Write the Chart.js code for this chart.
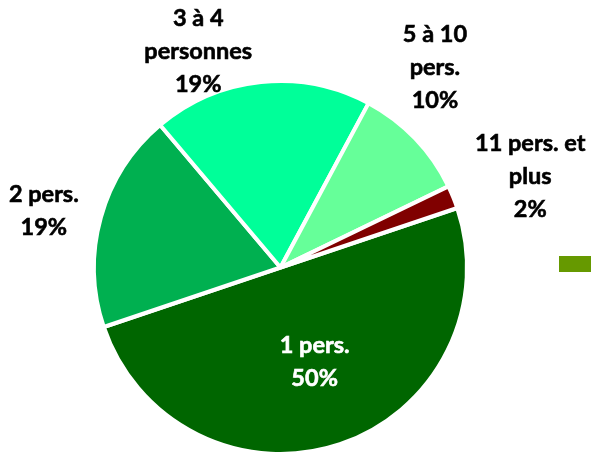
<!DOCTYPE html>
<html>
<head>
<meta charset="utf-8">
<script src="https://cdn.jsdelivr.net/npm/chart.js@4.4.1/dist/chart.umd.min.js"></script>
<style>
  html, body { margin: 0; padding: 0; background: #fff; overflow: hidden; }
  canvas { display: block; }
</style>
</head>
<body>
<canvas id="miGraficoPie" width="591" height="460"></canvas>
<script>
// categories and shares (%)
const categorias = ['1 pers.', '2 pers.', '3 à 4 personnes', '5 à 10 pers.', '11 pers. et plus'];
const porcentajes = [50, 19, 19, 10, 2];
// label text lines as shown
const etiquetas = [
    ['1 pers.', '50%'],
    ['2 pers.', '19%'],
    ['3 à 4', 'personnes', '19%'],
    ['5 à 10', 'pers.', '10%'],
    ['11 pers. et', 'plus', '2%']
];
const colores = ['#006600', '#00B050', '#00FF99', '#66FF99', '#800000'];

// label placement relative to the pie centre, in radius units
const posEtiquetas = [[0.183, 0.505], [-1.269, -0.301], [-0.441, -1.156], [0.828, -1.075], [1.339, -0.489]];
const colorTexto = ['#ffffff', '#000000', '#000000', '#000000', '#000000'];

const pluginEtiquetas = {
    id: 'etiquetas',
    afterDatasetsDraw(chart) {
        const ctx = chart.ctx;
        const meta = chart.getDatasetMeta(0);
        ctx.save();
        ctx.font = 'bold 23.5px Lato';
        ctx.textAlign = 'center';
        ctx.textBaseline = 'middle';
        meta.data.forEach(function(arc, i) {
            const r = arc.outerRadius;
            const cx = arc.x + posEtiquetas[i][0] * r;
            const cy = arc.y + posEtiquetas[i][1] * r;
            const lineas = etiquetas[i];
            const lh = 33;
            ctx.fillStyle = colorTexto[i];
            ctx.strokeStyle = colorTexto[i];
            ctx.lineWidth = 0.6;
            lineas.forEach(function(t, k) {
                const y = cy + (k - (lineas.length - 1) / 2) * lh;
                ctx.fillText(t, cx, y);
                ctx.strokeText(t, cx, y);
            });
        });
        // small marker cut off at the right edge
        ctx.fillStyle = '#669900';
        ctx.fillRect(559, 256, 40, 16);
        ctx.restore();
    }
};

const grafico = new Chart(document.getElementById('miGraficoPie'), {
    type: 'pie',
    data: {
        labels: categorias,
        datasets: [{
            data: porcentajes,
            backgroundColor: colores,
            borderColor: '#ffffff',
            borderWidth: 4
        }]
    },
    options: {
        responsive: false,
        animation: false,
        rotation: 71.4,
        layout: { padding: { top: 79, bottom: 4, left: 92, right: 122 } },
        plugins: {
            legend: { display: false },
            tooltip: { enabled: false }
        }
    },
    plugins: [pluginEtiquetas]
});
</script>
</body>
</html>
